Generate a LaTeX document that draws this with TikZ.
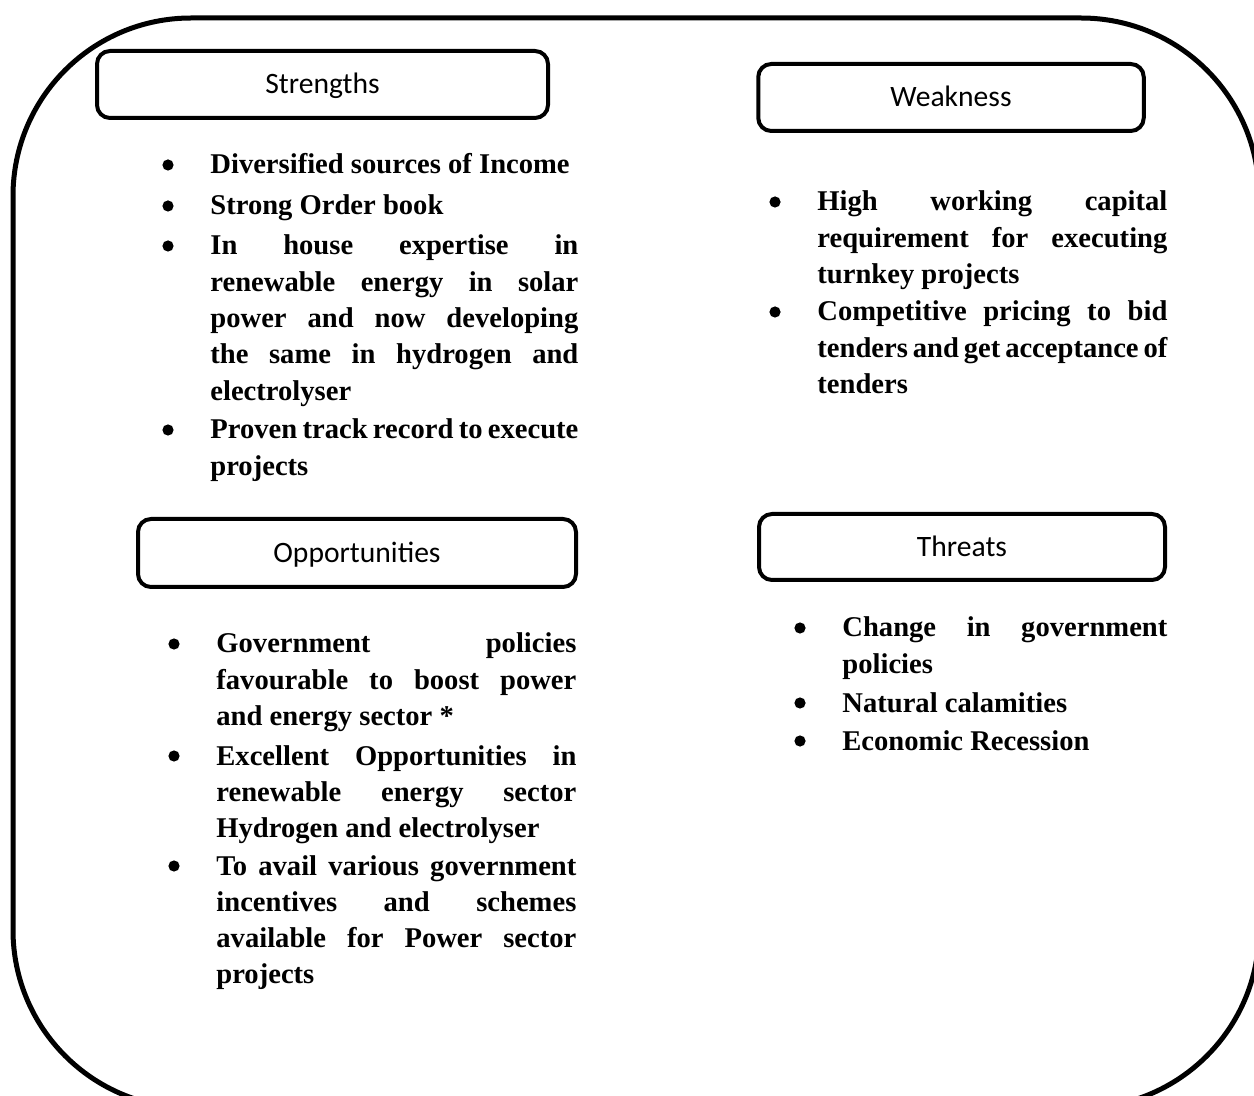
\documentclass[tikz,border=0pt]{standalone}
\usepackage{fontspec}
\setmainfont{Liberation Serif}
\newfontfamily\labelfont{Carlito}
\usepackage{tikz}
\usetikzlibrary{positioning,calc}
\newcommand\headfont{\labelfont\fontsize{14.8pt}{17pt}\selectfont}
\newcommand\itemfont{\bfseries\fontsize{14.3pt}{18.15pt}\selectfont\tolerance=9999 \hyphenpenalty=10000 }

\begin{document}
\begin{tikzpicture}[
  x=0.5pt, y=-0.5pt,
  frame/.style={draw, line width=2.5pt, rounded corners=89pt},
  head/.style={draw, line width=2pt, rounded corners=6.5pt, font=\headfont,
               text height=9.5pt, text depth=0pt, inner sep=0pt, minimum height=33.5pt},
  item/.style={anchor=base west, inner sep=0pt, font=\itemfont, align=justify},
  bul/.style={circle, fill, inner sep=0pt, minimum size=5.6pt},
]
\useasboundingbox (0,0) rectangle (1254,1096);
\clip (0,0) rectangle (1254,1096);

% Outer frame
\draw[frame] (13,18) rectangle (1259,1108);

% Headings
\node[head, minimum width=225.5pt] (str) at (322.5,84.5) {Strengths};
\node[head, minimum width=192.75pt] (weak) at (951,97.5) {Weakness};
\node[head, minimum width=219pt, minimum height=34pt] (opp) at (357,553) {Opportunities};
\node[head, minimum width=203pt, minimum height=33pt] (thr) at (962,547) {Threats};

% Strengths
\node[item, text width=184pt] (s1) at (210,174) {Diversified sources of Income};
\node[item, text width=184pt] (s2) at (210,215) {Strong Order book};
\node[item, text width=184pt] (s3) at (210,255) {In house expertise in\linebreak
  renewable energy in solar\linebreak power and now developing\linebreak
  the same in hydrogen and\linebreak electrolyser};
\node[item, text width=184pt] (s4) at (210,439) {Proven track record to execute\linebreak projects};

% Weakness
\node[item, text width=175pt] (w1) at (817,211) {High working capital\linebreak
  requirement for executing\linebreak turnkey projects};
\node[item, text width=175pt] (w2) at (817,321) {Competitive pricing to bid\linebreak
  tenders and get acceptance of\linebreak tenders};

% Opportunities
\node[item, text width=180pt] (o1) at (216,653) {Government policies\linebreak
  favourable to boost power\linebreak and energy sector *};
\node[item, text width=180pt] (o2) at (216,765) {Excellent Opportunities in\linebreak
  renewable energy sector\linebreak Hydrogen and electrolyser};
\node[item, text width=180pt] (o3) at (216,875) {To avail various government\linebreak
  incentives and schemes\linebreak available for Power sector\linebreak projects};

% Threats
\node[item, text width=162.5pt] (t1) at (842,637) {Change in government\linebreak policies};
\node[item, text width=162.5pt] (t2) at (842,712) {Natural calamities};
\node[item, text width=162.5pt] (t3) at (842,750) {Economic Recession};

% Bullets
\foreach \n in {s1,s2,s3,s4,w1,w2,o1,o2,o3,t1,t2,t3}
  \node[bul] (b\n) at ([shift={(-42,-9)}]\n.base west) {};
\end{tikzpicture}
\end{document}
